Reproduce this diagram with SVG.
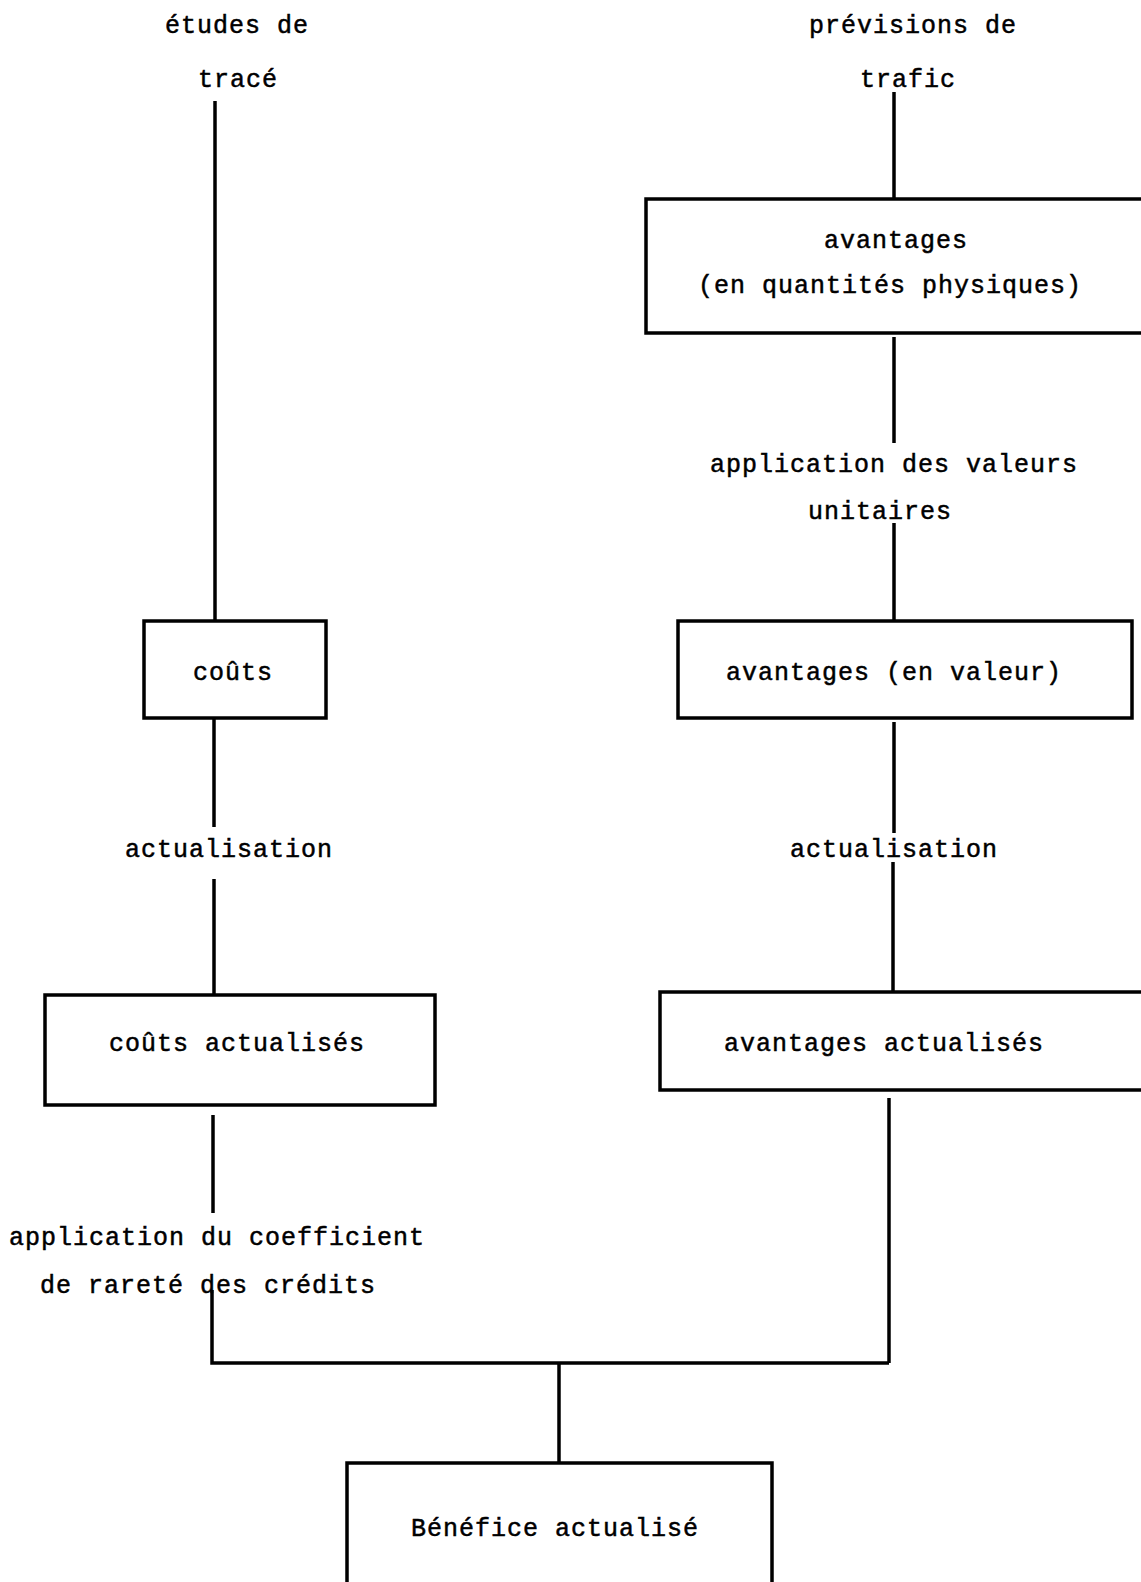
<svg xmlns="http://www.w3.org/2000/svg" width="1141" height="1582" viewBox="0 0 1141 1582">
<style>
.bg{fill:#ffffff}
.box{fill:none;stroke:#000;stroke-width:3.5;stroke-linejoin:miter}
.ln{fill:none;stroke:#000;stroke-width:3.5}
text{font-family:"Liberation Mono","DejaVu Sans Mono",monospace;font-size:25px;letter-spacing:1px;fill:#000;stroke:#000;stroke-width:0.5}
</style>
<rect class="bg" x="0" y="0" width="1141" height="1582"/>
<g id="connectors">
<path class="ln" d="M215,101 V621"/>
<path class="ln" d="M894,92 V199"/>
<path class="ln" d="M894,337 V443"/>
<path class="ln" d="M894,523 V621"/>
<path class="ln" d="M214,718 V827"/>
<path class="ln" d="M214,879 V995"/>
<path class="ln" d="M894,722 V833"/>
<path class="ln" d="M893,862 V992"/>
<path class="ln" d="M213,1115 V1213"/>
<path class="ln" d="M889,1098 V1363"/>
<path class="ln" d="M212,1290 V1363 H889"/>
<path class="ln" d="M559,1363 V1463"/>
</g>
<g id="label-etudes">
<text x="165" y="33">études de</text>
<text x="198" y="87">tracé</text>
</g>
<g id="label-previsions">
<text x="809" y="33">prévisions de</text>
<text x="860" y="87">trafic</text>
</g>
<g id="node-avantages-physiques">
<path class="box" d="M1150,199 H646 V333 H1150"/>
<text x="824" y="248">avantages</text>
<text x="698" y="293">(en quantités physiques)</text>
</g>
<g id="label-valeurs-unitaires">
<text x="710" y="472">application des valeurs</text>
<text x="808" y="519">unitaires</text>
</g>
<g id="node-couts">
<rect class="box" x="144" y="621" width="182" height="97"/>
<text x="193" y="680">coûts</text>
</g>
<g id="node-avantages-valeur">
<rect class="box" x="678" y="621" width="454" height="97"/>
<text x="726" y="680">avantages (en valeur)</text>
</g>
<g id="label-actualisation-left">
<text x="125" y="857">actualisation</text>
</g>
<g id="label-actualisation-right">
<text x="790" y="857">actualisation</text>
</g>
<g id="node-couts-actualises">
<rect class="box" x="45" y="995" width="390" height="110"/>
<text x="109" y="1051">coûts actualisés</text>
</g>
<g id="node-avantages-actualises">
<path class="box" d="M1150,992 H660 V1090 H1150"/>
<text x="724" y="1051">avantages actualisés</text>
</g>
<g id="label-coefficient">
<text x="9" y="1245">application du coefficient</text>
<text x="40" y="1293">de rareté des crédits</text>
</g>
<g id="node-benefice">
<path class="box" d="M347,1595 V1463 H772 V1595"/>
<text x="411" y="1536">Bénéfice actualisé</text>
</g>
</svg>
